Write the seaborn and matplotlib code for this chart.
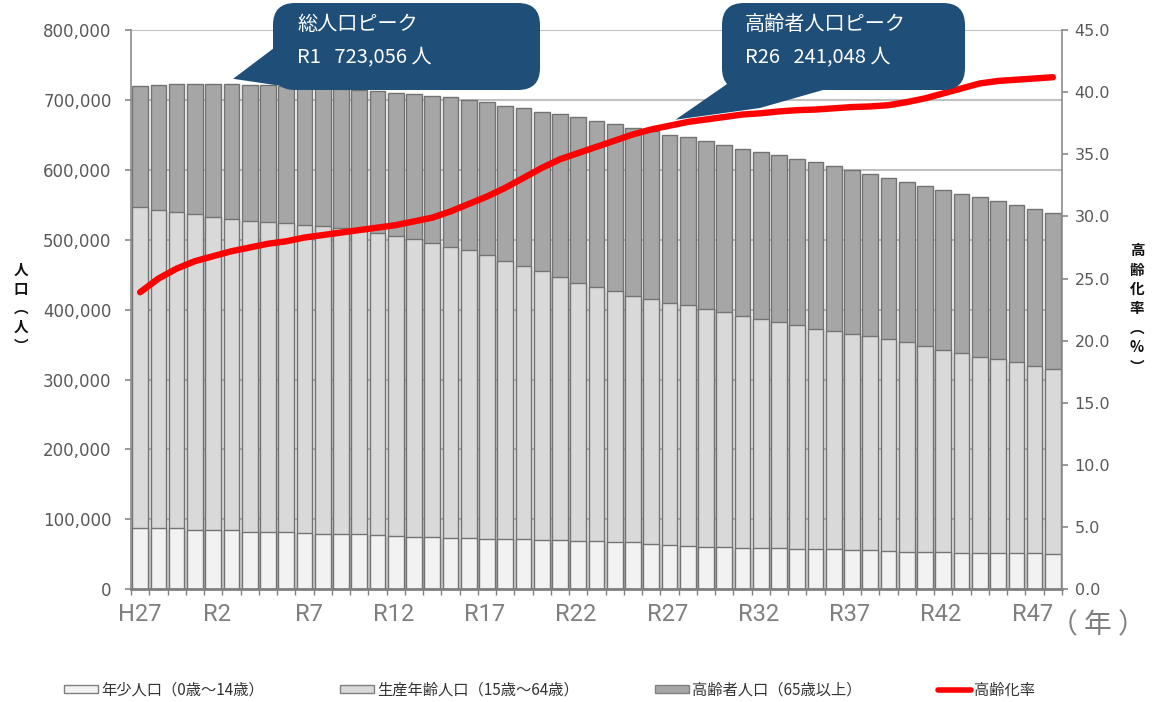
import numpy as np
import pandas as pd
import matplotlib
matplotlib.use('Agg')
import matplotlib.pyplot as plt
import seaborn as sns
from matplotlib.patches import FancyBboxPatch, Polygon, Patch
from matplotlib.lines import Line2D
from matplotlib.transforms import IdentityTransform
from matplotlib.ticker import FuncFormatter, MultipleLocator

# ---- data ----
years = ['H27', 'H28', 'H29', 'H30'] + ['R%d' % n for n in range(1, 48)]

young = [87500, 87500, 87000, 85500, 85000, 84500, 82500, 82000, 81500, 80500,
         79500, 79000, 78500, 77500, 76500, 75500, 74500, 74000, 73000, 72500,
         72000, 71500, 70500, 70000, 69500, 69000, 67500, 67000, 65000, 64000,
         62000, 61000, 60000, 59500, 59000, 58500, 58000, 57500, 57000, 56500,
         55500, 54500, 54000, 53500, 53000, 52500, 52500, 52000, 51500, 51500, 51000]

working = [460000, 455500, 453000, 451500, 447000, 444500, 444500, 443500, 442500, 440500,
           439500, 437500, 434500, 432000, 429000, 425500, 421000, 416000, 412000, 405000,
           398000, 391500, 384500, 376500, 369000, 363000, 359000, 353200, 349700, 345452,
           344000, 340000, 336500, 331800, 327500, 324500, 320000, 315500, 313000, 309000,
           306500, 304000, 299500, 294500, 290000, 285200, 280000, 277500, 273000, 268000, 264000]

elderly = [173000, 178500, 182300, 185800, 191056, 193600, 195000, 195700, 196200, 198000,
           198600, 199500, 201300, 203000, 205000, 207300, 210500, 213500, 214500, 219000,
           221500, 225000, 228000, 233000, 236500, 237500, 239000, 240300, 240800, 241048,
           240500, 240000, 239500, 239200, 239000, 238500, 238000, 237500, 235000, 234500,
           232500, 230000, 229500, 229000, 228500, 228300, 228000, 225500, 225000, 224500, 223500]

# aging rate (%)
rate = [23.9, 25.0, 25.8, 26.4, 26.8, 27.2, 27.5, 27.8, 28.0, 28.3,
        28.5, 28.7, 28.9, 29.1, 29.3, 29.6, 29.9, 30.4, 31.0, 31.6,
        32.3, 33.1, 33.9, 34.6, 35.1, 35.6, 36.1, 36.6, 37.0, 37.3,
        37.6, 37.8, 38.0, 38.2, 38.3, 38.45, 38.55, 38.6, 38.7, 38.8,
        38.85, 38.95, 39.2, 39.5, 39.9, 40.3, 40.7, 40.9, 41.0, 41.1, 41.2]

legend_labels = ['年少人口（0歳～14歳）', '生産年齢人口（15歳～64歳）',
                 '高齢者人口（65歳以上）', '高齢化率']

df = pd.DataFrame({'idx': np.arange(len(years)), 'young': young,
                   'working': working, 'elderly': elderly})
df['young_working'] = df['young'] + df['working']
df['total'] = df['young_working'] + df['elderly']

c_young = '#f2f2f2'
c_work = '#d9d9d9'
c_old = '#a6a6a6'
c_edge = '#737373'
c_red = '#ff0000'
c_box = '#1f4e79'
jp = 'Noto Sans CJK JP'

sns.set_theme(style='white')
plt.rcParams['font.family'] = ['DejaVu Sans', jp]

fig = plt.figure(figsize=(11.55, 7.02), dpi=100)
ax = fig.add_axes([131 / 1155, 1 - 589.3 / 702, (1062 - 131) / 1155, (589.3 - 30) / 702])

# stacked bars: draw cumulative heights on top of each other
for col, c in [('total', c_old), ('young_working', c_work), ('young', c_young)]:
    sns.barplot(data=df, x='idx', y=col, color=c, saturation=1, width=0.86,
                edgecolor=c_edge, linewidth=1.0, errorbar=None, ax=ax)

ax.set_ylim(0, 800000)
ax.yaxis.set_major_locator(MultipleLocator(100000))
ax.yaxis.set_major_formatter(FuncFormatter(lambda v, p: f'{int(v):,}'))
ax.yaxis.grid(True, color='#c0c0c0', lw=1.5)
ax.set_axisbelow(True)
ax.set_xlabel('')
ax.set_ylabel('')

for s in ['top', 'right']:
    ax.spines[s].set_visible(False)
ax.spines['left'].set_color('#8c8c8c')
ax.spines['left'].set_linewidth(1.2)
ax.spines['bottom'].set_color('#808080')
ax.spines['bottom'].set_linewidth(2)

ax.tick_params(axis='y', left=True, length=4, color='#8c8c8c', labelsize=12,
               labelcolor='#595959', pad=10)

# aging rate line on the right axis
ax2 = ax.twinx()
sns.lineplot(x=df['idx'], y=rate, color=c_red, lw=4.6, ax=ax2,
             solid_capstyle='round', solid_joinstyle='round')
ax2.set_ylim(0, 45)
ax2.yaxis.set_major_locator(MultipleLocator(5))
ax2.yaxis.set_major_formatter(FuncFormatter(lambda v, p: f'{v:.1f}'))
ax2.set_ylabel('')
ax2.grid(False)
for s in ['top', 'left', 'bottom']:
    ax2.spines[s].set_visible(False)
ax2.spines['right'].set_color('#8c8c8c')
ax2.spines['right'].set_linewidth(1.2)
ax2.tick_params(axis='y', right=True, length=4, color='#8c8c8c', labelsize=11.5,
                labelcolor='#595959', pad=5)

ax.set_xlim(-0.5, len(years) - 0.5)

# x ticks
major = df['idx'].values[::5]
ax.set_xticks(major)
ax.set_xticklabels([years[i] for i in major], fontfamily='Roboto', fontsize=17,
                   color='#7f7f7f')
for lab in ax.get_xticklabels()[1:]:
    lab.set_ha('right')
ax.set_xticks(np.arange(-0.5, len(years), 1), minor=True)
ax.tick_params(axis='x', which='major', bottom=False, length=0, pad=10)
ax.tick_params(axis='x', which='minor', bottom=True, length=4, width=1,
               color='#808080')
fig.text(1050 / 1155, 1 - 625 / 702, '（ 年 ）', family=jp, fontsize=20,
         color='#7f7f7f', va='center', ha='left')

# vertical axis titles
for k, ch in enumerate(['人', '口', '︵', '人', '︶']):
    fig.text(21 / 1155, 1 - (270 + k * 19) / 702, ch, family=jp, fontsize=10.5,
             fontweight='bold', ha='center', va='center', color='#111111')
for k, ch in enumerate(['高', '齢', '化', '率', '︵', '%', '︶']):
    fig.text(1137 / 1155, 1 - (250 + k * 19.5) / 702, ch, family=jp, fontsize=10.5,
             fontweight='bold', ha='center', va='center', color='#111111')

# callouts
fig.canvas.draw()
ident = IdentityTransform()
H = 702


def callout(x0, x1, y_top, y_bot, tail, lines):
    box = FancyBboxPatch((x0, H - y_bot), x1 - x0, y_bot - y_top,
                         boxstyle='round,pad=0,rounding_size=22',
                         fc=c_box, ec='none', transform=ident, zorder=5)
    fig.add_artist(box)
    tri = Polygon([(x, H - y) for x, y in tail], closed=True, fc=c_box,
                  ec='none', transform=ident, zorder=5)
    fig.add_artist(tri)
    for (tx, ty, s) in lines:
        fig.text(tx / 1155, 1 - ty / H, s, family=jp, fontsize=14.5, color='white',
                 va='center', ha='left', zorder=6)


tip1 = ax.transData.transform((4, df['total'][4]))
tip1 = (tip1[0] + 20, H - tip1[1] - 5)
callout(273, 540, 3, 90, [tip1, (274, 48), (302, 89)],
        [(297, 25, '総人口ピーク'), (297, 58, 'R1   723,056 人')])

tip2 = ax2.transData.transform((29, rate[29]))
tip2 = (tip2[0] + 6, H - tip2[1] - 6)
callout(722, 965, 3, 90, [tip2, (730, 82), (830, 88), (760, 108)],
        [(745, 25, '高齢者人口ピーク'), (745, 58, 'R26   241,048 人')])

# legend
handles = [Patch(fc=c_young, ec='#808080'), Patch(fc=c_work, ec='#808080'),
           Patch(fc=c_old, ec='#808080'), Line2D([0], [0], color=c_red, lw=4)]
fig.legend(handles, legend_labels, loc='center', bbox_to_anchor=(0.476, 1 - 690 / 702),
           ncol=4, frameon=False, prop={'family': jp, 'size': 11},
           handlelength=2.2, handleheight=0.45, handletextpad=0.2,
           columnspacing=5.0, labelcolor='#333333')

fig.savefig('out.png', dpi=100)
